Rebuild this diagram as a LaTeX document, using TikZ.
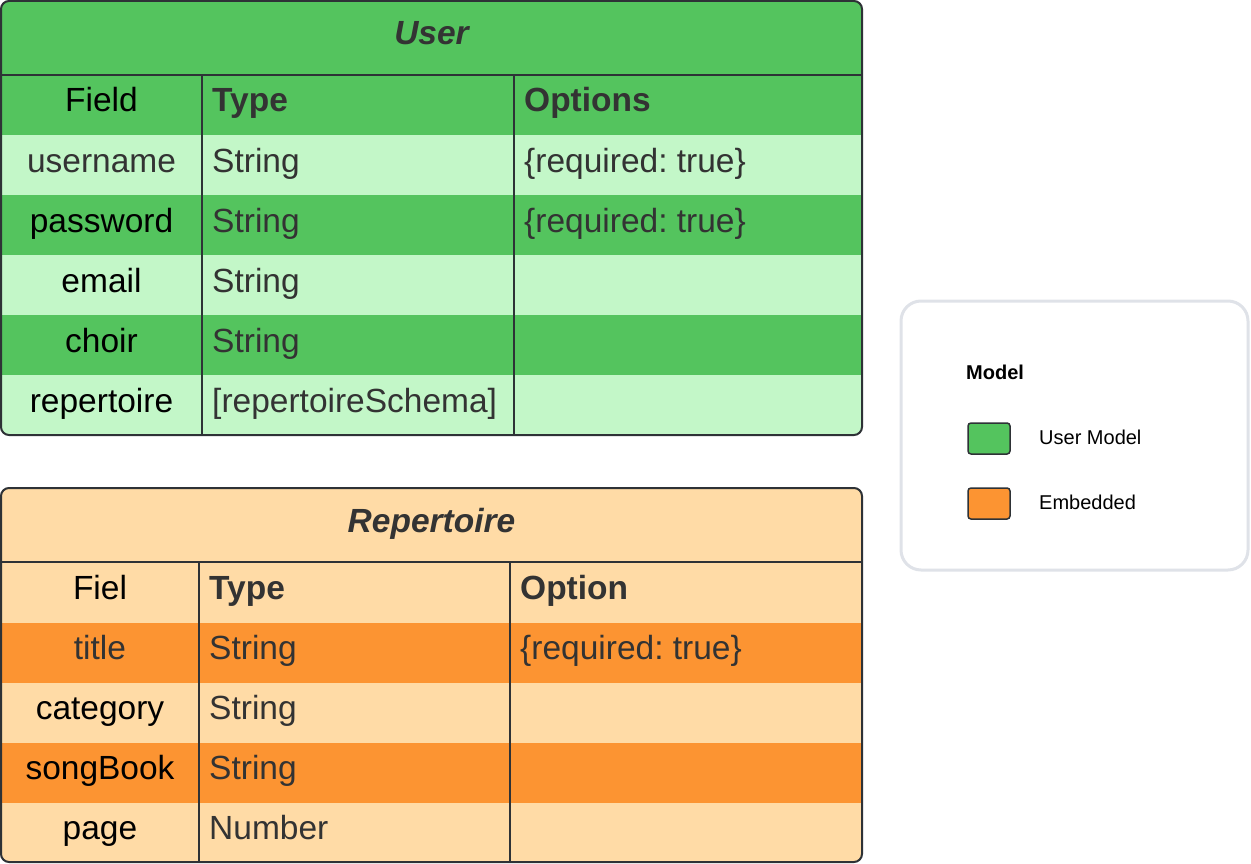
\documentclass[tikz,border=0pt]{standalone}
\usepackage{fontspec}
\setmainfont{Liberation Sans}
\frenchspacing
\definecolor{ink}{HTML}{333333}
\definecolor{rule}{HTML}{2E3236}
\definecolor{greenDark}{HTML}{54C45E}
\definecolor{greenLight}{HTML}{C3F7C8}
\definecolor{orangeDark}{HTML}{FC9432}
\definecolor{orangeLight}{HTML}{FFDBA6}
\definecolor{legendEdge}{HTML}{DFE2E8}
\newcommand\cellsize{\fontsize{33.5}{40}\selectfont}
\tikzset{
  cell/.style={inner sep=0pt, font=\cellsize},
  midcell/.style={cell, anchor=base},
  leftcell/.style={cell, anchor=base west},
  heading/.style={cell, anchor=base, text=ink, font=\cellsize\bfseries\itshape},
  colhead/.style={leftcell, text=ink, font=\cellsize\bfseries},
  grid/.style={draw=rule, line width=2pt},
  frame/.style={draw=rule, line width=2pt, rounded corners=8pt},
  small/.style={inner sep=0pt, anchor=base west, font=\fontsize{20}{24}\selectfont},
  swatch/.style={draw=rule, line width=1.5pt, rounded corners=3pt},
}
\begin{document}
\begin{tikzpicture}[x=1pt, y=-1pt]
\useasboundingbox (0,0) rectangle (1251,864);

% ---------- User schema ----------
\begin{scope}
  \clip[rounded corners=8pt] (1,1) rectangle (862,435);
  \fill[greenDark]  (1,1)   rectangle (862,135);
  \fill[greenLight] (1,135) rectangle (862,195);
  \fill[greenDark]  (1,195) rectangle (862,255);
  \fill[greenLight] (1,255) rectangle (862,315);
  \fill[greenDark]  (1,315) rectangle (862,375);
  \fill[greenLight] (1,375) rectangle (862,435);
\end{scope}
\draw[grid] (1,75) -- (862,75);
\draw[grid] (202,75) -- (202,435);
\draw[grid] (514,75) -- (514,435);
\draw[frame] (1,1) rectangle (862,435);

\node[heading] (userTitle) at (431.5,45) {User};
\node[midcell] (uField) at (101.5,112) {Field};
\node[colhead] (uType) at (212,112) {Type};
\node[colhead] (uOpt) at (524,112) {Options};

\node[midcell, text=ink] (uF1) at (101.5,172) {username};
\node[leftcell, text=ink] (uT1) at (212,172) {String};
\node[leftcell, text=ink] (uO1) at (524,172) {\{required: true\}};

\node[midcell] (uF2) at (101.5,232) {password};
\node[leftcell, text=ink] (uT2) at (212,232) {String};
\node[leftcell, text=ink] (uO2) at (524,232) {\{required: true\}};

\node[midcell] (uF3) at (101.5,292) {email};
\node[leftcell, text=ink] (uT3) at (212,292) {String};

\node[midcell] (uF4) at (101.5,352) {choir};
\node[leftcell, text=ink] (uT4) at (212,352) {String};

\node[midcell] (uF5) at (101.5,412) {repertoire};
\node[leftcell, text=ink] (uT5) at (212,412) {[repertoireSchema]};

% ---------- Repertoire schema ----------
\begin{scope}
  \clip[rounded corners=8pt] (1,488) rectangle (862,862);
  \fill[orangeLight] (1,488) rectangle (862,623);
  \fill[orangeDark]  (1,623) rectangle (862,683);
  \fill[orangeLight] (1,683) rectangle (862,743);
  \fill[orangeDark]  (1,743) rectangle (862,803);
  \fill[orangeLight] (1,803) rectangle (862,862);
\end{scope}
\draw[grid] (1,562) -- (862,562);
\draw[grid] (199,562) -- (199,862);
\draw[grid] (510,562) -- (510,862);
\draw[frame] (1,488) rectangle (862,862);

\node[heading] (repTitle) at (431.5,532) {Repertoire};
\node[midcell] (rField) at (100,599) {Fiel};
\node[colhead] (rType) at (209,599) {Type};
\node[colhead] (rOpt) at (520,599) {Option};

\node[midcell, text=ink] (rF1) at (100,659) {title};
\node[leftcell, text=ink] (rT1) at (209,659) {String};
\node[leftcell, text=ink] (rO1) at (520,659) {\{required: true\}};

\node[midcell] (rF2) at (100,719) {category};
\node[leftcell, text=ink] (rT2) at (209,719) {String};

\node[midcell] (rF3) at (100,779) {songBook};
\node[leftcell, text=ink] (rT3) at (209,779) {String};

\node[midcell] (rF4) at (100,839) {page};
\node[leftcell, text=ink] (rT4) at (209,839) {Number};

% ---------- Legend ----------
\draw[legendEdge, line width=3pt, fill=white, rounded corners=20pt] (901,301) rectangle (1248,570);
\node[small, font=\fontsize{20}{24}\selectfont\bfseries] (legTitle) at (966,379) {Model};
\draw[swatch, fill=greenDark]  (968,423) rectangle (1010,454);
\node[small] (legUser) at (1039,444) {User Model};
\draw[swatch, fill=orangeDark] (968,488) rectangle (1010,519);
\node[small] (legEmb) at (1039,509) {Embedded};
\end{tikzpicture}
\end{document}
